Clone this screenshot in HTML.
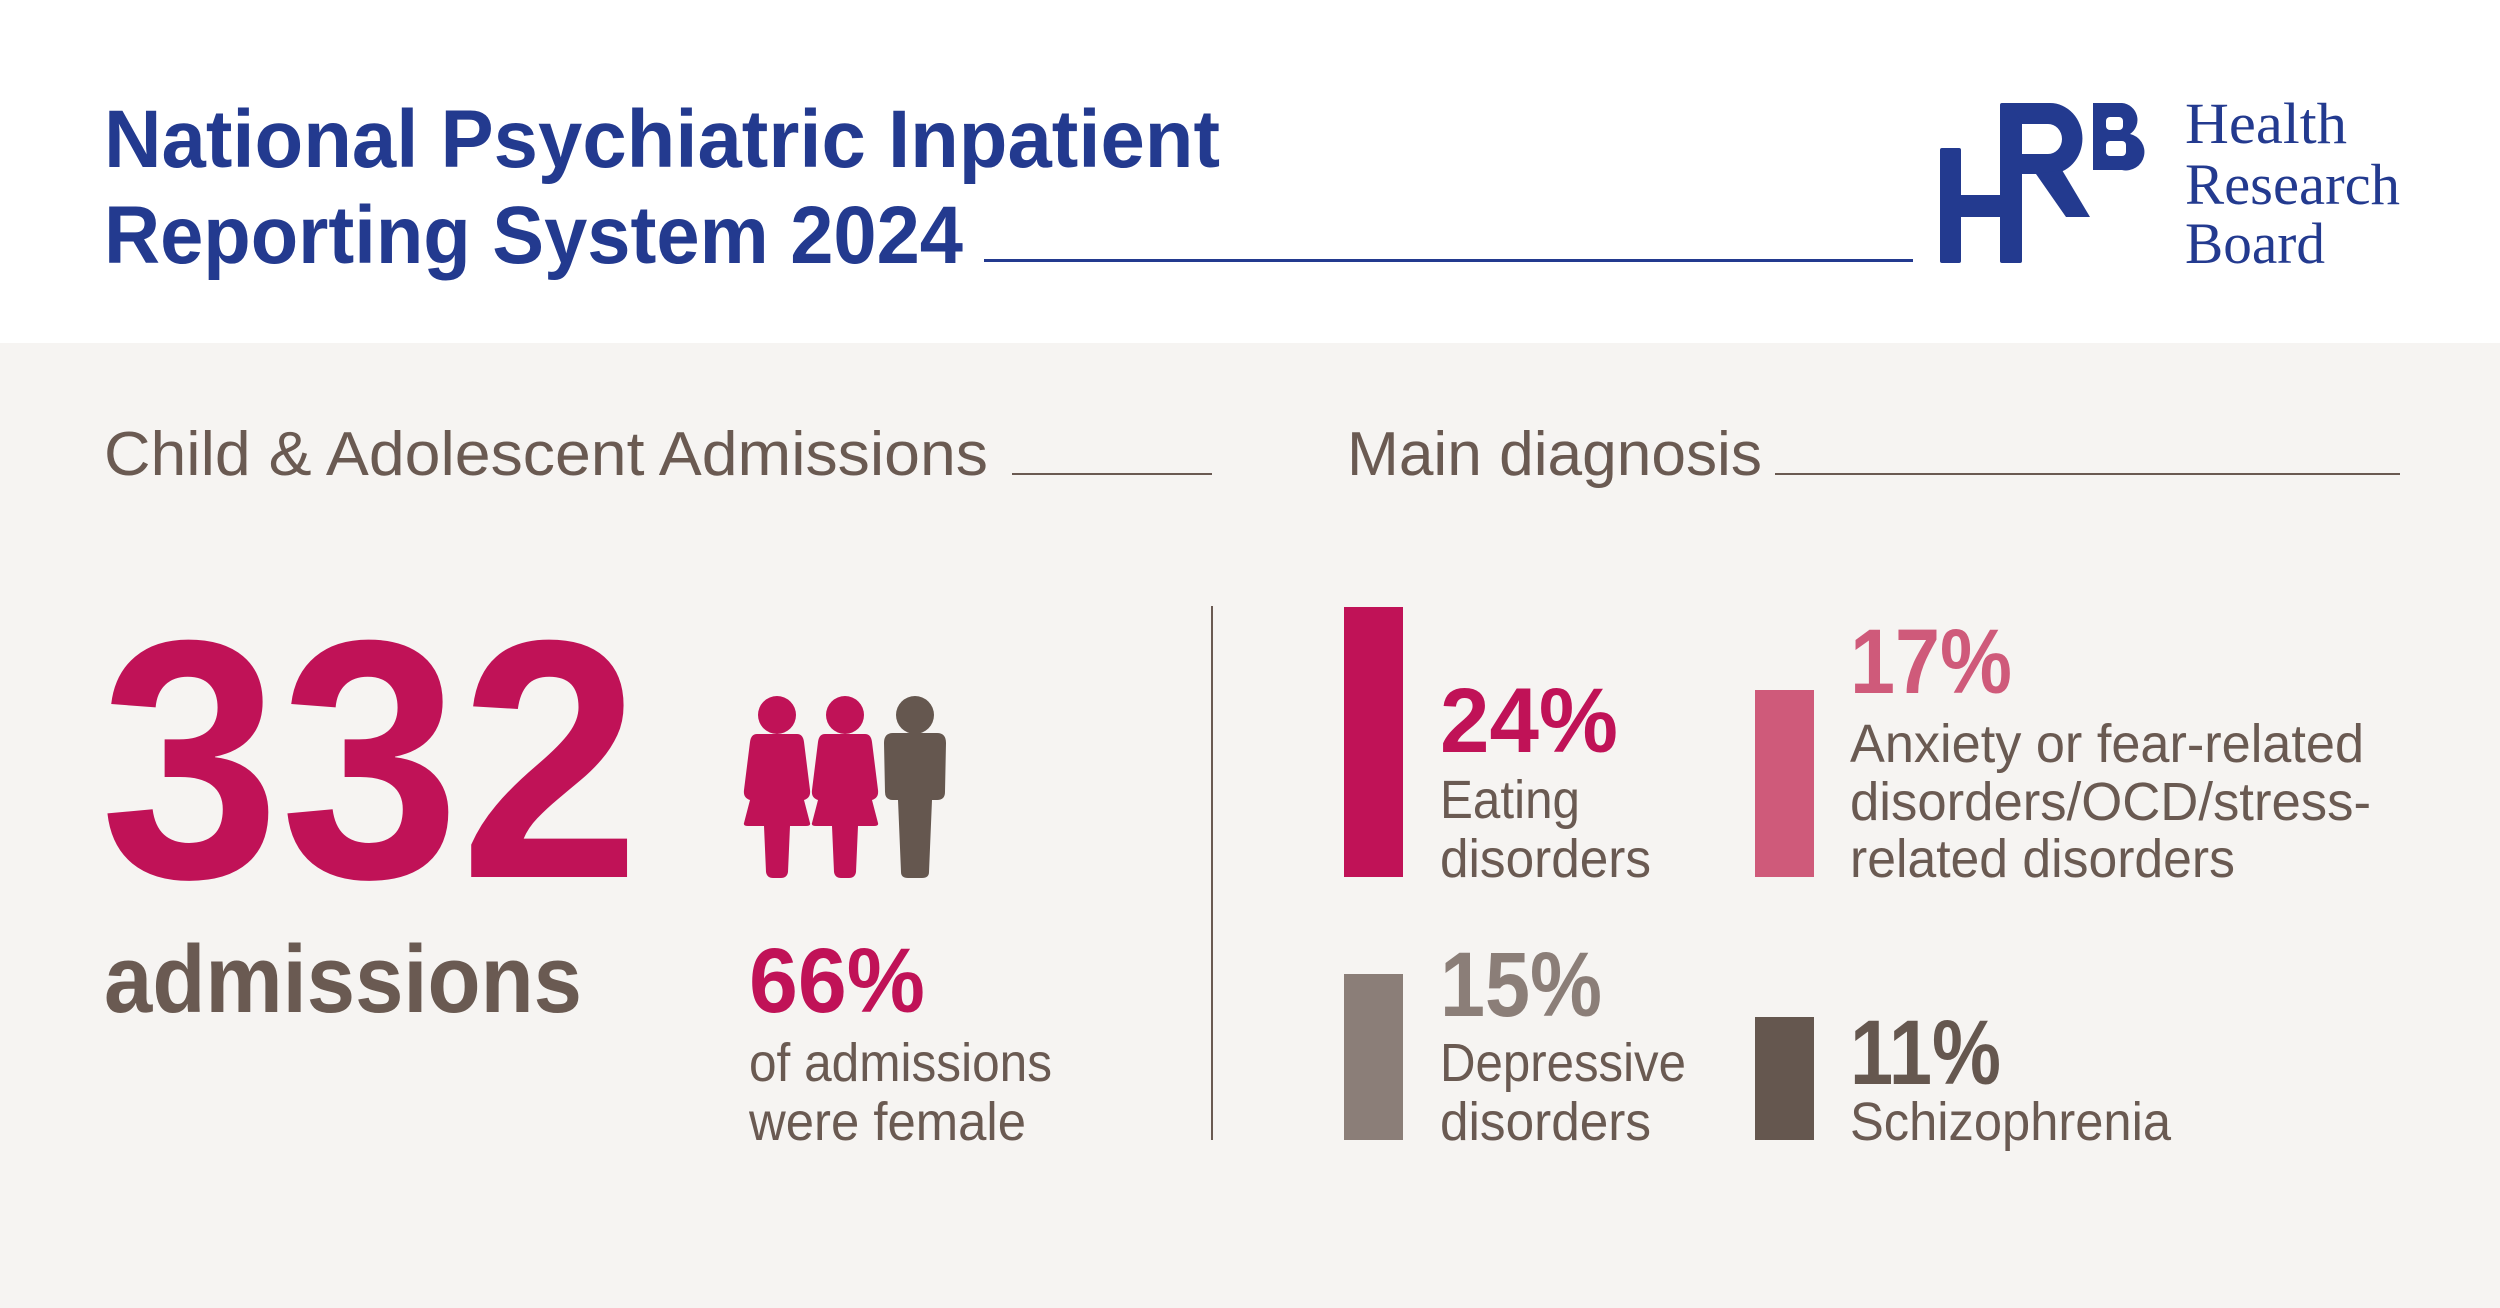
<!DOCTYPE html>
<html><head><meta charset="utf-8"><style>
html,body{margin:0;padding:0;background:#fff}
svg{display:block}
</style></head><body>
<svg width="2500" height="1308" viewBox="0 0 2500 1308" xmlns="http://www.w3.org/2000/svg">
<rect x="0" y="0" width="2500" height="343" fill="#ffffff"/>
<rect x="0" y="343" width="2500" height="965" fill="#f6f4f2"/>
<g font-family="Liberation Sans, sans-serif" font-weight="bold" fill="#233a8f">
<text x="104" y="167" font-size="82" textLength="1116" lengthAdjust="spacingAndGlyphs">National Psychiatric Inpatient</text>
<text x="104" y="263" font-size="82" textLength="859" lengthAdjust="spacingAndGlyphs">Reporting System 2024</text>
</g>
<rect x="984" y="259" width="929" height="3" fill="#233a8f"/>
<!-- logo -->
<g fill="#233a8f">
<rect x="1940" y="148" width="21" height="115" rx="2"/>
<rect x="1950" y="195" width="60" height="22"/>
<rect x="2000" y="103" width="22" height="160" rx="2"/>
<path d="M2010 103 H2050 A32 35 0 0 1 2050 174 H2022 V154 H2048 A14 15 0 0 0 2048 124 H2022 Z"/>
<path d="M2036 174 L2062 170 L2090 217 L2066 217 Z"/>
<path d="M2093 103 H2122 A17 17 0 0 1 2130 134 A18 18 0 0 1 2122 170 H2093 Z"/>
</g>
<g fill="#fff">
<rect x="2106" y="117" width="17" height="13" rx="4"/>
<rect x="2106" y="141" width="20" height="15" rx="4"/>
</g>
<g font-family="Liberation Serif, serif" font-size="58" fill="#233a8f">
<text x="2185" y="143" textLength="162" lengthAdjust="spacingAndGlyphs">Health</text>
<text x="2185" y="204" textLength="215" lengthAdjust="spacingAndGlyphs">Research</text>
<text x="2185" y="263" textLength="140" lengthAdjust="spacingAndGlyphs">Board</text>
</g>
<!-- section headings -->
<g font-family="Liberation Sans, sans-serif" fill="#6a5a52" font-size="62">
<text x="104" y="475" textLength="884" lengthAdjust="spacingAndGlyphs">Child &amp; Adolescent Admissions</text>
<text x="1347" y="475" textLength="415" lengthAdjust="spacingAndGlyphs">Main diagnosis</text>
</g>
<rect x="1012" y="473" width="200" height="2" fill="#6a5a52"/>
<rect x="1775" y="473" width="625" height="2" fill="#6a5a52"/>
<rect x="1211" y="606" width="2" height="534" fill="#6a5a52"/>
<!-- 332 -->
<text x="100" y="877" font-family="Liberation Sans, sans-serif" font-weight="bold" font-size="340" fill="#c01257" textLength="540" lengthAdjust="spacingAndGlyphs">332</text>
<text x="104" y="1012" font-family="Liberation Sans, sans-serif" font-weight="bold" font-size="96" fill="#6a5a52" textLength="478" lengthAdjust="spacingAndGlyphs">admissions</text>
<!-- figures -->
<g fill="#c01257">
<circle cx="777" cy="715" r="19"/>
<path d="M757 734 H797 Q803 734 804 742 L810 790 Q811 798 804 800 L810 823 Q811 826 806 826 H790 L788 872 Q787 878 781 878 H773 Q767 878 766 872 L764 826 H748 Q743 826 744 823 L750 800 Q743 798 744 790 L750 742 Q751 734 757 734 Z"/>
<circle cx="845" cy="715" r="19"/>
<path d="M825 734 H865 Q871 734 872 742 L878 790 Q879 798 872 800 L878 823 Q879 826 874 826 H858 L856 872 Q855 878 849 878 H841 Q835 878 834 872 L832 826 H816 Q811 826 812 823 L818 800 Q811 798 812 790 L818 742 Q819 734 825 734 Z"/>
</g>
<g fill="#65574f">
<circle cx="915" cy="715" r="19"/>
<path d="M893 733 H937 Q946 733 946 743 L945 792 Q945 800 937 800 H932 L929 872 Q929 878 922 878 H908 Q901 878 901 872 L898 800 H893 Q885 800 885 792 L884 743 Q884 733 893 733 Z"/>
</g>
<g font-family="Liberation Sans, sans-serif">
<text x="749" y="1012" font-weight="bold" font-size="92" fill="#c01257" textLength="176" lengthAdjust="spacingAndGlyphs">66%</text>
<g fill="#6a5a52" font-size="54">
<text x="749" y="1081" textLength="303" lengthAdjust="spacingAndGlyphs">of admissions</text>
<text x="749" y="1140" textLength="277" lengthAdjust="spacingAndGlyphs">were female</text>
</g>
</g>
<!-- bars -->
<rect x="1344" y="607" width="59" height="270" fill="#c01257"/>
<rect x="1755" y="690" width="59" height="187" fill="#cf5a7a"/>
<rect x="1344" y="974" width="59" height="166" fill="#8b7e78"/>
<rect x="1755" y="1017" width="59" height="123" fill="#65574f"/>
<g font-family="Liberation Sans, sans-serif" font-weight="bold" font-size="92">
<text x="1440" y="752" fill="#c01257" textLength="178" lengthAdjust="spacingAndGlyphs">24%</text>
<text x="1850" y="693" fill="#cf5a7a" textLength="162" lengthAdjust="spacingAndGlyphs">17%</text>
<text x="1440" y="1016" fill="#8b7e78" textLength="162" lengthAdjust="spacingAndGlyphs">15%</text>
<text x="1850" y="1084" fill="#65574f" textLength="151" lengthAdjust="spacingAndGlyphs">11%</text>
</g>
<g font-family="Liberation Sans, sans-serif" font-size="54" fill="#6a5a52">
<text x="1440" y="818" textLength="140" lengthAdjust="spacingAndGlyphs">Eating</text>
<text x="1440" y="877" textLength="211" lengthAdjust="spacingAndGlyphs">disorders</text>
<text x="1850" y="762" textLength="514" lengthAdjust="spacingAndGlyphs">Anxiety or fear-related</text>
<text x="1850" y="820" textLength="521" lengthAdjust="spacingAndGlyphs">disorders/OCD/stress-</text>
<text x="1850" y="877" textLength="385" lengthAdjust="spacingAndGlyphs">related disorders</text>
<text x="1440" y="1081" textLength="246" lengthAdjust="spacingAndGlyphs">Depressive</text>
<text x="1440" y="1140" textLength="211" lengthAdjust="spacingAndGlyphs">disorders</text>
<text x="1850" y="1140" textLength="321" lengthAdjust="spacingAndGlyphs">Schizophrenia</text>
</g>
</svg>
</body></html>
